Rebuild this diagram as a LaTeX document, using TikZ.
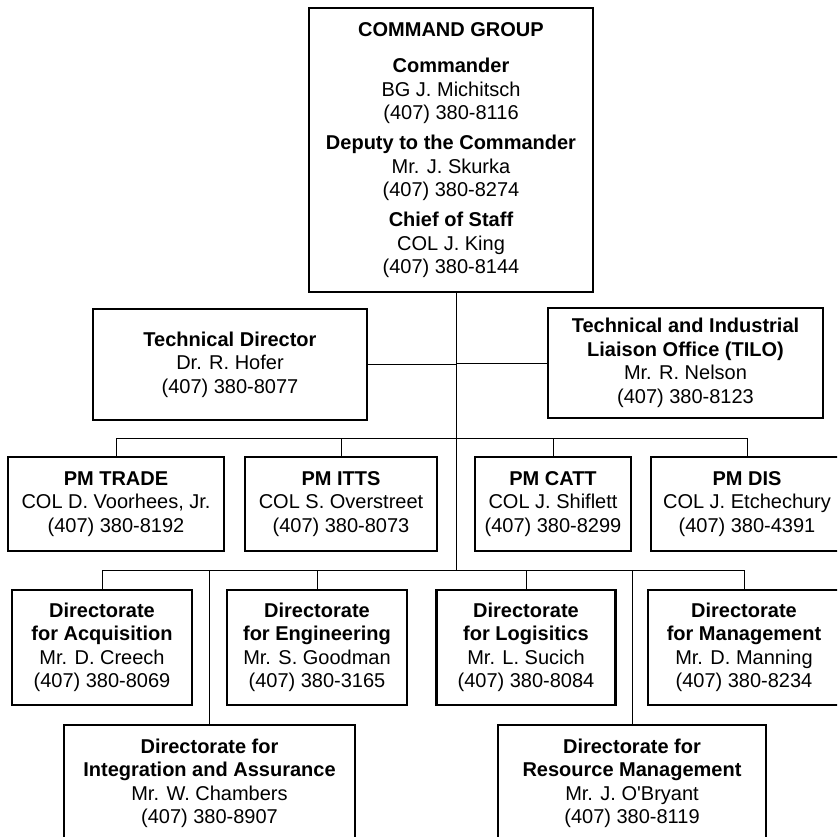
\documentclass[tikz,border=0pt]{standalone}
\usepackage{fontspec}
\setmainfont{Liberation Sans}
\begin{document}
\begin{tikzpicture}[x=0.85pt,y=-0.85pt,
  box/.style={draw, line width=2.5pt, inner sep=0pt, align=center,
    font=\fontsize{17}{20}\selectfont},
  conn/.style={line width=0.8pt}]
\useasboundingbox (0,0) rectangle (837,837);
\clip (0,0) rectangle (837,837);
% command group
\node[box, minimum width=241.4pt, minimum height=241.4pt] (cmd) at (451,150)
 {\textbf{COMMAND GROUP}\\[11pt]\textbf{Commander}\\BG J. Michitsch\\(407) 380-8116\\[5.5pt]
  \textbf{Deputy to the Commander}\\Mr. J. Skurka\\(407) 380-8274\\[5.5pt]
  \textbf{Chief of Staff}\\COL J. King\\(407) 380-8144};
\coordinate (trunk) at (456,570);
\coordinate (pmbus) at (0,438);
% staff
\node[box, minimum width=232.9pt, minimum height=94.35pt] (td) at (230,364.5)
 {\textbf{Technical Director}\\Dr. R. Hofer\\(407) 380-8077};
\node[box, minimum width=233.75pt, minimum height=93.5pt] (tilo) at (685.5,363)
 {\textbf{Technical and Industrial}\\\textbf{Liaison Office (TILO)}\\Mr. R. Nelson\\(407) 380-8123};
% PMs
\node[box, minimum width=183.6pt, minimum height=79.9pt] (pmtrade) at (116,504)
 {\textbf{PM TRADE}\\COL D. Voorhees, Jr.\\(407) 380-8192};
\node[box, minimum width=163.2pt, minimum height=79.9pt] (pmitts) at (341,504)
 {\textbf{PM ITTS}\\COL S. Overstreet\\(407) 380-8073};
\node[box, minimum width=132.6pt, minimum height=79.9pt] (pmcatt) at (553,504)
 {\textbf{PM CATT}\\COL J. Shiflett\\(407) 380-8299};
\node[box, minimum width=163.2pt, minimum height=79.9pt] (pmdis) at (747,504)
 {\textbf{PM DIS}\\COL J. Etchechury\\(407) 380-4391};
% directorates
\node[box, minimum width=153pt, minimum height=97.75pt] (acq) at (102,647.5)
 {\textbf{Directorate}\\\textbf{for Acquisition}\\Mr. D. Creech\\(407) 380-8069};
\node[box, minimum width=153pt, minimum height=97.75pt] (eng) at (317,647.5)
 {\textbf{Directorate}\\\textbf{for Engineering}\\Mr. S. Goodman\\(407) 380-3165};
\node[box, minimum width=152.15pt, minimum height=97.75pt] (log) at (526,647.5)
 {\textbf{Directorate}\\\textbf{for Logisitics}\\Mr. L. Sucich\\(407) 380-8084};
\node[box, minimum width=163.2pt, minimum height=97.75pt] (mgmt) at (744,647.5)
 {\textbf{Directorate}\\\textbf{for Management}\\Mr. D. Manning\\(407) 380-8234};
\node[box, minimum width=247.35pt, minimum height=99.45pt] (integ) at (209.5,783.5)
 {\textbf{Directorate for}\\\textbf{Integration and Assurance}\\Mr. W. Chambers\\(407) 380-8907};
\node[box, minimum width=227.8pt, minimum height=99.45pt] (res) at (632,783.5)
 {\textbf{Directorate for}\\\textbf{Resource Management}\\Mr. J. O\textquotesingle Bryant\\(407) 380-8119};
% connectors
\draw[conn] (cmd.south -| trunk) -- (trunk);
\draw[conn] (td.east) -- (td.east -| trunk);
\draw[conn] (tilo.west) -- (tilo.west -| trunk);
\draw[conn] (pmtrade.north) -- (pmtrade.north |- pmbus) -- (pmdis.north |- pmbus) -- (pmdis.north);
\draw[conn] (pmitts.north) -- (pmitts.north |- pmbus);
\draw[conn] (pmcatt.north) -- (pmcatt.north |- pmbus);
\draw[conn] (acq.north) -- (acq.north |- trunk) -- (mgmt.north |- trunk) -- (mgmt.north);
\draw[conn] (eng.north) -- (eng.north |- trunk);
\draw[conn] (log.north) -- (log.north |- trunk);
\draw[conn] (integ.north) -- (integ.north |- trunk);
\draw[conn] (res.north) -- (res.north |- trunk);
\end{tikzpicture}
\end{document}
